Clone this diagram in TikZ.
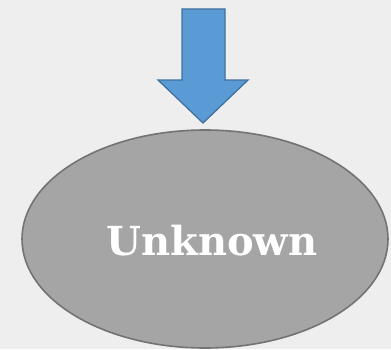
\documentclass[tikz,border=0pt]{standalone}
\usepackage{fontspec}
\setmainfont{DejaVu Serif}
\usetikzlibrary{shapes.geometric}
\definecolor{bg}{HTML}{EEEEEE}
\definecolor{ellfill}{HTML}{A5A5A5}
\definecolor{ellline}{HTML}{737373}
\definecolor{arrfill}{HTML}{5B9BD5}
\definecolor{arrline}{HTML}{41719C}
\tikzset{
  blob/.style={ellipse, draw=ellline, fill=ellfill, line width=1.6pt,
    minimum width=366pt, minimum height=218pt, inner sep=0pt},
  caption/.style={text=white, inner sep=0pt, font=\bfseries\fontsize{40}{46}\selectfont},
  blockarrow/.style={draw=arrline, fill=arrfill, line width=1.3pt, line join=miter}
}
\begin{document}
\begin{tikzpicture}[x=1pt,y=1pt]
  \fill[bg] (0,0) rectangle (391,349);
  \useasboundingbox (0,0) rectangle (391,349);
  % block arrow pointing down onto the ellipse
  \draw[blockarrow] (182,340) -- (225,340) -- (225,269) -- (248,269)
    -- (203,226) -- (158,269) -- (182,269) -- cycle;
  \node[blob] (unk) at (205,110) {};
  \node[caption] (unktext) at ([xshift=7pt,yshift=-2pt]unk.center) {Unknown};
\end{tikzpicture}
\end{document}
